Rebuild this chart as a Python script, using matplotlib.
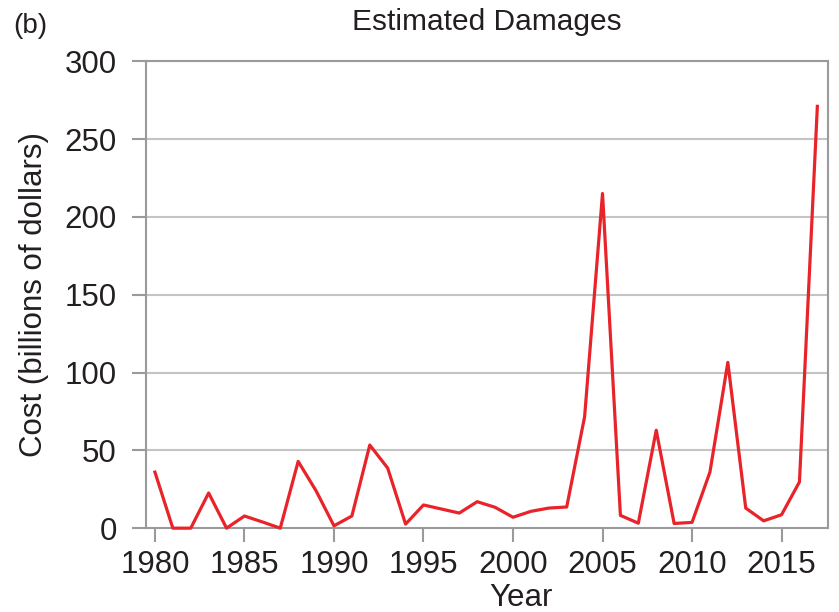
import matplotlib
matplotlib.use('Agg')
import matplotlib.pyplot as plt

# Données
years = list(range(1980, 2018))
cost = [36.0, 0.0, 0.0, 22.6, 0.0, 7.8, 4.0, 0.0, 42.9, 24.0,
        1.5, 7.8, 53.4, 38.6, 2.6, 14.9, 12.3, 9.7, 17.0, 13.4,
        7.0, 10.8, 12.9, 13.6, 71.6, 215.0, 8.2, 3.2, 62.9, 3.0,
        3.7, 36.0, 106.5, 12.9, 4.7, 8.6, 29.7, 271.0]
xticks = [1980, 1985, 1990, 1995, 2000, 2005, 2010, 2015]
yticks = [0, 50, 100, 150, 200, 250, 300]

plt.rcParams['font.family'] = ['Liberation Sans', 'DejaVu Sans']
text_col = '#231f20'
grid_col = '#c4c4c4'
spine_col = '#9a9a9a'

fig = plt.figure(figsize=(8.39, 6.12), dpi=100)
ax = fig.add_axes([0.174, 0.137, 0.813, 0.763])

for v in yticks[1:]:
    ax.axhline(v, color=grid_col, linewidth=1.5, zorder=1)

ax.plot(years, cost, color='#e8232a', linewidth=2.3, zorder=3, clip_on=False)

ax.set_xlim(1979.5, 2017.6)
ax.set_ylim(0, 300)
ax.set_xticks(xticks)
ax.set_yticks(yticks)
ax.tick_params(axis='both', direction='out', length=10, width=1.5,
               color=spine_col, labelsize=22.5, labelcolor=text_col)
ax.tick_params(axis='x', pad=6)
ax.tick_params(axis='y', pad=11)
for s in ax.spines.values():
    s.set_color(spine_col)
    s.set_linewidth(1.5)

ax.set_xlabel('Year', fontsize=22.5, color=text_col)
ax.xaxis.set_label_coords(0.550, -0.118)
ax.set_ylabel('Cost (billions of dollars)', fontsize=22.5, color=text_col)
ax.yaxis.set_label_coords(-0.1415, 0.5)
ax.set_title('Estimated Damages', fontsize=21.5, color=text_col, pad=22.5)
fig.text(13 / 839, 1 - 33 / 612, '(b)', fontsize=20, color=text_col,
         va='baseline')

fig.savefig('out.png', dpi=100)
